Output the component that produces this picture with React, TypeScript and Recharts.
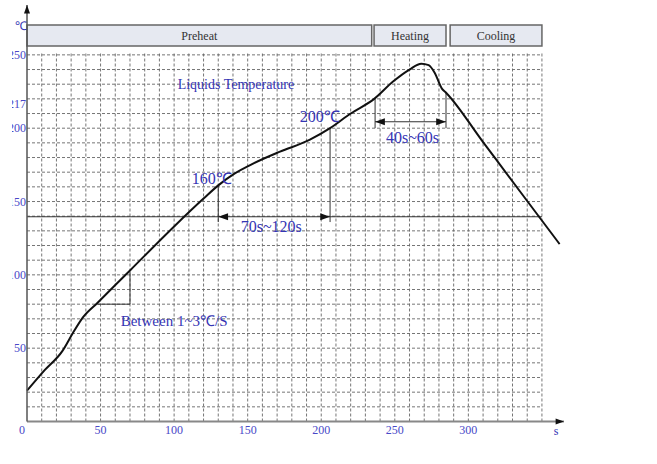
import React from 'react';
import {
  LineChart, Line, XAxis, YAxis, ReferenceLine, ReferenceArea, ReferenceDot
} from 'recharts';

// reflow profile, time (s) vs temperature (℃)
const TIME = [0, 12, 24, 31, 38, 48, 70, 100, 120, 130, 141, 154, 172, 192, 206, 220, 236, 249, 260, 268, 273, 277, 282, 285, 310, 335, 362];
const TEMP = [21, 35, 48, 60, 71, 81, 103, 133, 152, 161, 169, 176, 184, 192, 200, 210, 220, 232, 240, 244, 243, 238, 227, 224, 190.5, 157, 121];

const X_TICKS = [0, 50, 100, 150, 200, 250, 300];
const Y_TICKS = [50, 100, 150, 200, 217, 250];
const GRID_X = Array.from({ length: 35 }, (_, i) => (i + 1) * 10);
const GRID_Y = Array.from({ length: 25 }, (_, i) => (i + 1) * 10);

const STAGES = [
  { name: 'Preheat', from: 0, to: 234.3 },
  { name: 'Heating', from: 235.9, to: 284.8 },
  { name: 'Cooling', from: 287.6, to: 350 },
];

const NOTES = [
  { text: 'Liquids Temperature', t: 142, v: 229.5, size: 14 },
  { text: '200℃', t: 199, v: 207.8, size: 16 },
  { text: '160℃', t: 125.5, v: 165.8, size: 16 },
  { text: '40s~60s', t: 262, v: 193.8, size: 16 },
  { text: '70s~120s', t: 166, v: 133.3, size: 16 },
  { text: 'Between 1~3℃/S', t: 100, v: 68.7, size: 15 },
];

const data = TIME.map((t, i) => ({ t, temp: TEMP[i] }));

const BLUE = '#3434b4';
const FONT = '"Liberation Serif", "Times New Roman", serif';

const arrow = (dir: 'left' | 'right' | 'up', size = 7) => (p: any) => {
  const { cx, cy } = p;
  let d = '';
  if (dir === 'right') d = `M${cx},${cy} L${cx - size * 1.4},${cy - size / 2} L${cx - size * 1.4},${cy + size / 2} Z`;
  if (dir === 'left') d = `M${cx},${cy} L${cx + size * 1.4},${cy - size / 2} L${cx + size * 1.4},${cy + size / 2} Z`;
  if (dir === 'up') d = `M${cx},${cy} L${cx - size / 2},${cy + size * 1.4} L${cx + size / 2},${cy + size * 1.4} Z`;
  return <path d={d} fill="#111" />;
};

const note = (text: string, size: number) => (p: any) => (
  <text x={p.cx} y={p.cy} textAnchor="middle" dominantBaseline="central"
    fill={BLUE} fontSize={size} fontFamily={FONT}>{text}</text>
);

const XTick = (props: any) => {
  const { x, y, payload } = props;
  return (
    <text x={x + (payload.value === 0 ? -5 : 0)} y={y + 12.5} textAnchor="middle"
      fill="#4848c8" fontSize={12} fontFamily={FONT}>{payload.value}</text>
  );
};

export default function App() {
  const gridLine = { stroke: '#666', strokeDasharray: '3 2', strokeWidth: 0.9 };
  return (
    <div style={{ position: 'absolute', left: 12, top: 0, width: 645, height: 464, overflow: 'hidden', background: '#fff' }}>
      <div style={{ marginLeft: -12 }}>
        <LineChart width={657} height={464} data={data}
          margin={{ top: 5, right: 93, left: 0, bottom: 0 }}>
          <XAxis dataKey="t" type="number" domain={[0, 365]} ticks={X_TICKS}
            height={42.5} tickSize={0} tickMargin={0} tick={<XTick />}
            axisLine={{ stroke: '#888', strokeWidth: 2 }} tickLine={false} />
          <YAxis type="number" domain={[0, 284]} ticks={Y_TICKS} width={27}
            tickSize={1} tickMargin={0} tickLine={false}
            tick={{ fill: '#4848c8', fontSize: 12, fontFamily: FONT }}
            axisLine={{ stroke: '#555', strokeWidth: 1.5 }} />

          {GRID_Y.map(v => (
            <ReferenceLine key={`gy${v}`} segment={[{ x: 0, y: v }, { x: 350, y: v }]} {...gridLine} />
          ))}
          {GRID_X.map(t => (
            <ReferenceLine key={`gx${t}`} segment={[{ x: t, y: 0 }, { x: t, y: 251 }]} {...gridLine} />
          ))}

          {STAGES.map(s => (
            <ReferenceArea key={s.name} x1={s.from} x2={s.to} y1={256} y2={270.3}
              fill="#e6e9f1" fillOpacity={1} stroke="#666" strokeWidth={1.5}
              label={{ value: s.name, position: 'center', fill: '#333', fontSize: 12, fontFamily: FONT }} />
          ))}

          {/* 70s~120s span */}
          <ReferenceLine segment={[{ x: 0, y: 139.6 }, { x: 350, y: 139.6 }]} stroke="#333" strokeWidth={1.2} />
          <ReferenceLine segment={[{ x: 130, y: 136 }, { x: 130, y: 161 }]} stroke="#333" strokeWidth={1} />
          <ReferenceLine segment={[{ x: 206, y: 136 }, { x: 206, y: 200 }]} stroke="#333" strokeWidth={1} />
          <ReferenceDot x={130} y={139.6} r={0} shape={arrow('left')} />
          <ReferenceDot x={206} y={139.6} r={0} shape={arrow('right')} />

          {/* 40s~60s span */}
          <ReferenceLine segment={[{ x: 236.6, y: 204.4 }, { x: 284.8, y: 204.4 }]} stroke="#333" strokeWidth={1.2} />
          <ReferenceLine segment={[{ x: 236.6, y: 200 }, { x: 236.6, y: 220 }]} stroke="#333" strokeWidth={1} />
          <ReferenceLine segment={[{ x: 284.8, y: 200 }, { x: 284.8, y: 224 }]} stroke="#333" strokeWidth={1} />
          <ReferenceDot x={236.6} y={204.4} r={0} shape={arrow('left')} />
          <ReferenceDot x={284.8} y={204.4} r={0} shape={arrow('right')} />

          {/* slope triangle */}
          <ReferenceLine segment={[{ x: 48, y: 80 }, { x: 70, y: 80 }]} stroke="#333" strokeWidth={1} />
          <ReferenceLine segment={[{ x: 70, y: 80 }, { x: 70, y: 102 }]} stroke="#333" strokeWidth={1} />

          <Line dataKey="temp" type="monotone" stroke="#111" strokeWidth={2}
            dot={false} activeDot={false} isAnimationActive={false} />

          {NOTES.map(n => (
            <ReferenceDot key={n.text} x={n.t} y={n.v} r={0} shape={note(n.text, n.size)} />
          ))}

          {/* axis arrows and units */}
          <ReferenceDot x={365} y={0} r={0} ifOverflow="visible" shape={arrow('right', 6)} />
          <ReferenceDot x={0} y={284} r={0} ifOverflow="visible" shape={arrow('up', 6)} />
          <ReferenceDot x={-4} y={269.6} r={0} ifOverflow="visible" shape={note('℃', 12)} />
          <ReferenceDot x={359.6} y={-6.5} r={0} ifOverflow="visible" shape={note('s', 12)} />
        </LineChart>
      </div>
    </div>
  );
}
